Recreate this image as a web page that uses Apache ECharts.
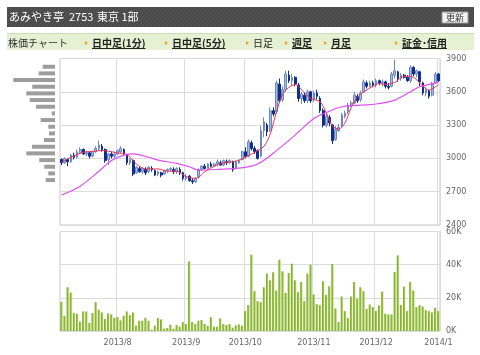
<!DOCTYPE html>
<html>
<head>
<meta charset="utf-8">
<script src="https://cdn.jsdelivr.net/npm/echarts@6/dist/echarts.min.js"></script>
<style>
html, body { margin: 0; padding: 0; background: #fff; }
#chart { width: 480px; height: 355px; }
</style>
</head>
<body>
<div id="chart"></div>
<script>
// 取引日 (2013/7/5 〜 2014/1/6)
const julDays = [5, 8, 9, 10, 11, 12, 16, 17, 18, 19, 22, 23, 24, 25, 26, 29, 30, 31];
const augDays = [1, 2, 5, 6, 7, 8, 9, 12, 13, 14, 15, 16, 19, 20, 21, 22, 23, 26, 27, 28, 29, 30];
const sepDays = [2, 3, 4, 5, 6, 9, 10, 11, 12, 13, 17, 18, 19, 20, 24, 25, 26, 27, 30];
const octDays = [1, 2, 3, 4, 7, 8, 9, 10, 11, 15, 16, 17, 18, 21, 22, 23, 24, 25, 28, 29, 30, 31];
const novDays = [1, 5, 6, 7, 8, 11, 12, 13, 14, 15, 18, 19, 20, 21, 22, 25, 26, 27, 28, 29];
const decDays = [2, 3, 4, 5, 6, 9, 10, 11, 12, 13, 16, 17, 18, 19, 20, 24, 25, 26, 27, 30];
const janDays = [6];

// 四本値 [始値, 終値, 安値, 高値]
const ohlc = [
  [2990, 2960, 2940, 3000], [2960, 3000, 2950, 3010], [2990, 2970, 2930, 3000], [2970, 3030, 2960, 3040],
  [3030, 3010, 2990, 3050], [3010, 3060, 3000, 3080], [3050, 3080, 3040, 3100], [3080, 3040, 3030, 3090],
  [3040, 3050, 3020, 3070], [3050, 3020, 3000, 3060], [3020, 3060, 3010, 3070], [3060, 3090, 3050, 3110],
  [3090, 3120, 3070, 3160], [3110, 3080, 3060, 3130], [3080, 2980, 2960, 3090], [2990, 3040, 2940, 3050],
  [3040, 3020, 3000, 3060], [3020, 3040, 3000, 3060], [3040, 3070, 3030, 3080], [3060, 3090, 3050, 3110],
  [3080, 3040, 3020, 3090], [3030, 2960, 2940, 3040], [2960, 2990, 2940, 3000], [2980, 2860, 2840, 2990],
  [2870, 2920, 2860, 2930], [2910, 2880, 2870, 2930], [2880, 2910, 2860, 2920], [2900, 2870, 2850, 2920],
  [2880, 2920, 2870, 2930], [2910, 2900, 2880, 2930], [2890, 2850, 2840, 2900], [2860, 2880, 2840, 2890],
  [2870, 2850, 2830, 2880], [2860, 2890, 2850, 2900], [2890, 2900, 2870, 2910], [2900, 2910, 2880, 2920],
  [2900, 2880, 2860, 2920], [2880, 2910, 2860, 2920], [2900, 2870, 2850, 2920], [2870, 2820, 2800, 2880],
  [2820, 2840, 2800, 2860], [2840, 2800, 2790, 2850], [2800, 2790, 2770, 2820], [2790, 2820, 2780, 2830],
  [2830, 2900, 2820, 2910], [2900, 2930, 2890, 2940], [2930, 2910, 2900, 2950], [2910, 2950, 2900, 2960],
  [2950, 2930, 2920, 2970], [2930, 2950, 2920, 2960], [2950, 2970, 2930, 2990], [2960, 2940, 2930, 2980],
  [2940, 2980, 2930, 2990], [2970, 2960, 2940, 2990], [2960, 2980, 2950, 2990], [2970, 2900, 2880, 2980],
  [2910, 2970, 2900, 2980], [2960, 2980, 2950, 2990], [2990, 3060, 2980, 3070], [3060, 3020, 3000, 3100],
  [3020, 3150, 3010, 3170], [3140, 3090, 3070, 3160], [3090, 3060, 3040, 3110], [3070, 3000, 2990, 3080],
  [3020, 3250, 3010, 3290], [3250, 3330, 3190, 3370], [3300, 3240, 3200, 3320], [3250, 3430, 3240, 3460],
  [3430, 3400, 3380, 3460], [3420, 3680, 3400, 3700], [3670, 3520, 3500, 3720], [3530, 3620, 3510, 3650],
  [3620, 3760, 3600, 3790], [3750, 3700, 3680, 3790], [3700, 3730, 3660, 3760], [3730, 3670, 3650, 3740],
  [3660, 3540, 3510, 3680], [3540, 3580, 3490, 3600], [3570, 3520, 3500, 3590], [3520, 3600, 3500, 3620],
  [3600, 3520, 3500, 3610], [3530, 3590, 3510, 3610], [3590, 3560, 3530, 3620], [3540, 3430, 3410, 3560],
  [3430, 3300, 3280, 3450], [3300, 3380, 3280, 3400], [3370, 3320, 3290, 3390], [3300, 3160, 3130, 3310],
  [3170, 3260, 3160, 3290], [3250, 3280, 3240, 3310], [3290, 3390, 3280, 3410], [3380, 3410, 3360, 3430],
  [3420, 3480, 3400, 3500], [3480, 3500, 3460, 3520], [3500, 3570, 3490, 3600], [3560, 3520, 3500, 3580],
  [3530, 3590, 3510, 3610], [3600, 3690, 3590, 3710], [3680, 3650, 3630, 3700], [3650, 3680, 3640, 3700],
  [3680, 3660, 3640, 3700], [3660, 3700, 3640, 3720], [3700, 3680, 3660, 3710], [3680, 3690, 3650, 3710],
  [3690, 3650, 3630, 3700], [3650, 3640, 3620, 3680], [3650, 3760, 3640, 3780], [3750, 3790, 3720, 3890],
  [3780, 3720, 3690, 3790], [3720, 3750, 3700, 3770], [3750, 3730, 3720, 3760], [3730, 3700, 3690, 3750],
  [3700, 3820, 3680, 3840], [3820, 3760, 3740, 3830], [3760, 3790, 3730, 3800], [3780, 3690, 3650, 3790],
  [3680, 3590, 3570, 3690], [3590, 3620, 3560, 3640], [3610, 3560, 3540, 3620], [3570, 3670, 3560, 3690],
  [3680, 3760, 3670, 3780], [3760, 3700, 3690, 3770]
];

// 出来高 (千株)
const volumes = [
  17.6, 9.2, 26.4, 23.2, 10.8, 10.4, 5.6, 11.8, 11.8, 4.8, 10.8, 17.4, 12.8, 11.2, 7.2, 10.6, 10, 8,
  8.4, 6.4, 9.2, 11.8, 9.6, 11.2, 3.2, 6.2, 6.2, 8, 6.2, 0.8, 3.2, 7.8, 7, 1.4, 1.8, 3.8, 1.4, 3.6, 2.6, 5.4,
  4.2, 42, 5.4, 4.2, 6.2, 6.6, 4.2, 3, 8.4, 2.6, 2.6, 7.6, 4.2, 3.6, 4.2, 2, 3.4, 4, 3.2,
  12, 15.6, 46, 24, 18, 17.4, 26.4, 34.6, 30.6, 35.4, 24.4, 43, 36, 23, 35, 40.6, 30.6, 23.4, 29.6, 18, 34.6, 40,
  22, 16.2, 15.6, 30, 21.8, 27, 40.4, 13.6, 5.4, 20.8, 12, 7.8, 20.8, 29.6, 19.4, 26.4, 24, 13.2, 16, 14.4,
  12, 15.4, 23.8, 10.4, 10, 10, 35.6, 45.6, 15.6, 26.8, 12, 29.6, 24.4, 14.4, 15.6, 14.8, 12.6, 12, 11.2, 14,
  12
];

// 移動平均 [日番号, 値]
const maShort = [
  [0, 2965], [3, 3010], [7, 3055], [11, 3065], [13, 3072], [15, 3065], [18, 3050], [21, 3035], [24, 2950],
  [27, 2905], [31, 2905], [34, 2885], [37, 2885], [40, 2835], [43, 2820], [46, 2880], [49, 2930], [52, 2960],
  [56, 2975], [59, 3010], [62, 3055], [65, 3110], [67, 3220], [69, 3420], [71, 3580], [73, 3640], [75, 3665],
  [77, 3620], [80, 3540], [83, 3510], [85, 3410], [87, 3290], [89, 3265], [91, 3320], [93, 3460], [95, 3550],
  [97, 3600], [100, 3650], [102, 3675], [104, 3665], [107, 3685], [110, 3740], [113, 3730], [116, 3650],
  [118, 3615], [121, 3665]
];
const maLong = [
  [0, 2670], [6, 2750], [12, 2885], [16, 2980], [20, 3030], [23, 3040], [28, 3010], [31, 2985], [37, 2955],
  [41, 2925], [44, 2895], [50, 2900], [56, 2910], [61, 2930], [64, 2965], [69, 3070], [75, 3210], [81, 3360],
  [86, 3425], [90, 3465], [96, 3480], [101, 3490], [107, 3525], [112, 3600], [115, 3645], [121, 3685]
];

// 価格帯別出来高
const profileBins = ['3830', '3770', '3710', '3650', '3590', '3530', '3470', '3410', '3350',
  '3290', '3230', '3170', '3110', '3050', '2990', '2930', '2870', '2810'];
const profileVolumes = [123, 163, 417, 227, 287, 253, 190, 33, 143, 67, 60, 110, 230, 287, 157, 107, 67, 93];

const navLinks = [
  { text: '日中足(1分)', x: 92, link: true },
  { text: '日中足(5分)', x: 172, link: true },
  { text: '日足', x: 253, link: false },
  { text: '週足', x: 292, link: true },
  { text: '月足', x: 331, link: true },
  { text: '証金･信用', x: 402, link: true }
];

const dates = [];
[['2013/7', julDays], ['2013/8', augDays], ['2013/9', sepDays], ['2013/10', octDays],
 ['2013/11', novDays], ['2013/12', decDays], ['2014/1', janDays]].forEach(([m, days]) => {
  days.forEach(d => dates.push(m + '/' + d));
});

const monthOf = s => s.split('/').slice(0, 2).join('/');
const isMonthStart = (i) => i > 0 && i < dates.length && monthOf(dates[i]) !== monthOf(dates[i - 1]);

// ヘッダーの斜線パターン
const hatch = document.createElement('canvas');
hatch.width = 4; hatch.height = 4;
const hctx = hatch.getContext('2d');
hctx.fillStyle = '#4a4a4a';
hctx.fillRect(0, 0, 4, 4);
hctx.strokeStyle = '#575757';
hctx.lineWidth = 1;
hctx.beginPath();
hctx.moveTo(0, 4); hctx.lineTo(4, 0);
hctx.stroke();

const measure = document.createElement('canvas').getContext('2d');
const navFont = 'bold 10px "Noto Sans CJK JP"';
measure.font = navFont;

const graphics = [
  { type: 'rect', shape: { x: 7, y: 7, width: 467, height: 20 }, style: { fill: { image: hatch, repeat: 'repeat' } } },
  { type: 'text', x: 9, y: 17, style: { text: 'あみやき亭', fill: '#fff', font: '11px "Noto Sans CJK JP"', verticalAlign: 'middle' } },
  { type: 'text', x: 69, y: 17, style: { text: '2753', fill: '#fff', font: '11px "Noto Sans CJK JP"', verticalAlign: 'middle' } },
  { type: 'text', x: 97, y: 17, style: { text: '東京 1部', fill: '#fff', font: '11px "Noto Sans CJK JP"', verticalAlign: 'middle' } },
  { type: 'rect', shape: { x: 442, y: 12, width: 26, height: 11 }, style: { fill: '#f2f2f2', stroke: '#999', lineWidth: 1 } },
  { type: 'text', x: 455, y: 17.5, style: { text: '更新', fill: '#333', font: '9px "Noto Sans CJK JP"', align: 'center', verticalAlign: 'middle' } },
  { type: 'rect', shape: { x: 7, y: 33, width: 467, height: 17 }, style: { fill: '#e6f0d3' } },
  { type: 'line', shape: { x1: 7, y1: 33.5, x2: 474, y2: 33.5 }, style: { stroke: '#cfdcb8', lineWidth: 1 } },
  { type: 'text', x: 8, y: 43, style: { text: '株価チャート', fill: '#333', font: '10px "Noto Sans CJK JP"', verticalAlign: 'middle' } }
];
navLinks.forEach(item => {
  const tx = item.x - 7;
  graphics.push({ type: 'polygon', shape: { points: [[tx, 41], [tx + 3, 43], [tx, 45]] }, style: { fill: '#f0a020' } });
  graphics.push({
    type: 'text', x: item.x, y: 43,
    style: { text: item.text, fill: '#222', font: item.link ? navFont : '10px "Noto Sans CJK JP"', verticalAlign: 'middle' }
  });
  if (item.link) {
    const w = measure.measureText(item.text).width;
    graphics.push({ type: 'line', shape: { x1: item.x, y1: 48.5, x2: item.x + w, y2: 48.5 }, style: { stroke: '#222', lineWidth: 1 } });
  }
});

const labelStyle = { color: '#666', fontSize: 8, fontFamily: 'DejaVu Sans' };
const gridLine = { lineStyle: { color: '#dcdcdc', width: 1 } };

var myChart = echarts.init(document.getElementById('chart'));

var option = {
  animation: false,
  backgroundColor: '#fff',
  graphic: graphics,
  grid: [
    { left: 60, top: 58.5, width: 380, height: 166.5, show: true, borderColor: '#c8c8c8', borderWidth: 1, backgroundColor: '#fff' },
    { left: 60, top: 231.5, width: 380, height: 99.5, show: true, borderColor: '#c8c8c8', borderWidth: 1, backgroundColor: '#fff' },
    { left: 9, top: 63.4, width: 46, height: 120 }
  ],
  xAxis: [
    {
      type: 'category', gridIndex: 0, data: dates,
      axisLine: { show: false }, axisTick: { show: false }, axisLabel: { show: false },
      splitLine: { show: true, interval: isMonthStart, lineStyle: gridLine.lineStyle }
    },
    {
      type: 'category', gridIndex: 1, data: dates,
      axisLine: { show: false }, axisTick: { show: false },
      axisLabel: Object.assign({ interval: isMonthStart, margin: 8, formatter: v => monthOf(v) }, labelStyle),
      splitLine: { show: true, interval: isMonthStart, lineStyle: gridLine.lineStyle }
    },
    { type: 'value', gridIndex: 2, inverse: true, min: 0, max: 460, show: false }
  ],
  yAxis: [
    {
      type: 'value', gridIndex: 0, position: 'right', min: 2400, max: 3900, interval: 300,
      axisLine: { show: false }, axisTick: { show: false },
      axisLabel: Object.assign({ margin: 6, formatter: v => String(v) }, labelStyle),
      splitLine: gridLine
    },
    {
      type: 'value', gridIndex: 1, position: 'right', min: 0, max: 60, interval: 20,
      axisLine: { show: false }, axisTick: { show: false },
      axisLabel: Object.assign({ margin: 6, formatter: v => v + 'K' }, labelStyle),
      splitLine: gridLine
    },
    { type: 'category', gridIndex: 2, inverse: true, data: profileBins, show: false }
  ],
  series: [
    {
      type: 'candlestick', xAxisIndex: 0, yAxisIndex: 0, data: ohlc, barWidth: 2.2,
      itemStyle: { color: '#a9bbdc', borderColor: '#6d89c4', color0: '#102e8a', borderColor0: '#102e8a', borderWidth: 1 }
    },
    {
      type: 'line', xAxisIndex: 0, yAxisIndex: 0, data: maShort, smooth: 0.3, showSymbol: false,
      lineStyle: { color: '#ee3355', width: 1 }
    },
    {
      type: 'line', xAxisIndex: 0, yAxisIndex: 0, data: maLong, smooth: 0.3, showSymbol: false,
      lineStyle: { color: '#e050f0', width: 1.2 }
    },
    {
      type: 'bar', xAxisIndex: 1, yAxisIndex: 1, data: volumes, barWidth: 2.4,
      itemStyle: {
        color: new echarts.graphic.LinearGradient(0, 0, 1, 0, [
          { offset: 0, color: '#7aa624' }, { offset: 0.55, color: '#93bd3a' }, { offset: 1, color: '#d6e9a6' }
        ])
      }
    },
    {
      type: 'bar', xAxisIndex: 2, yAxisIndex: 2, data: profileVolumes, barWidth: 4,
      itemStyle: { color: '#9d9d9d' }
    }
  ]
};

myChart.setOption(option);
</script>
</body>
</html>
